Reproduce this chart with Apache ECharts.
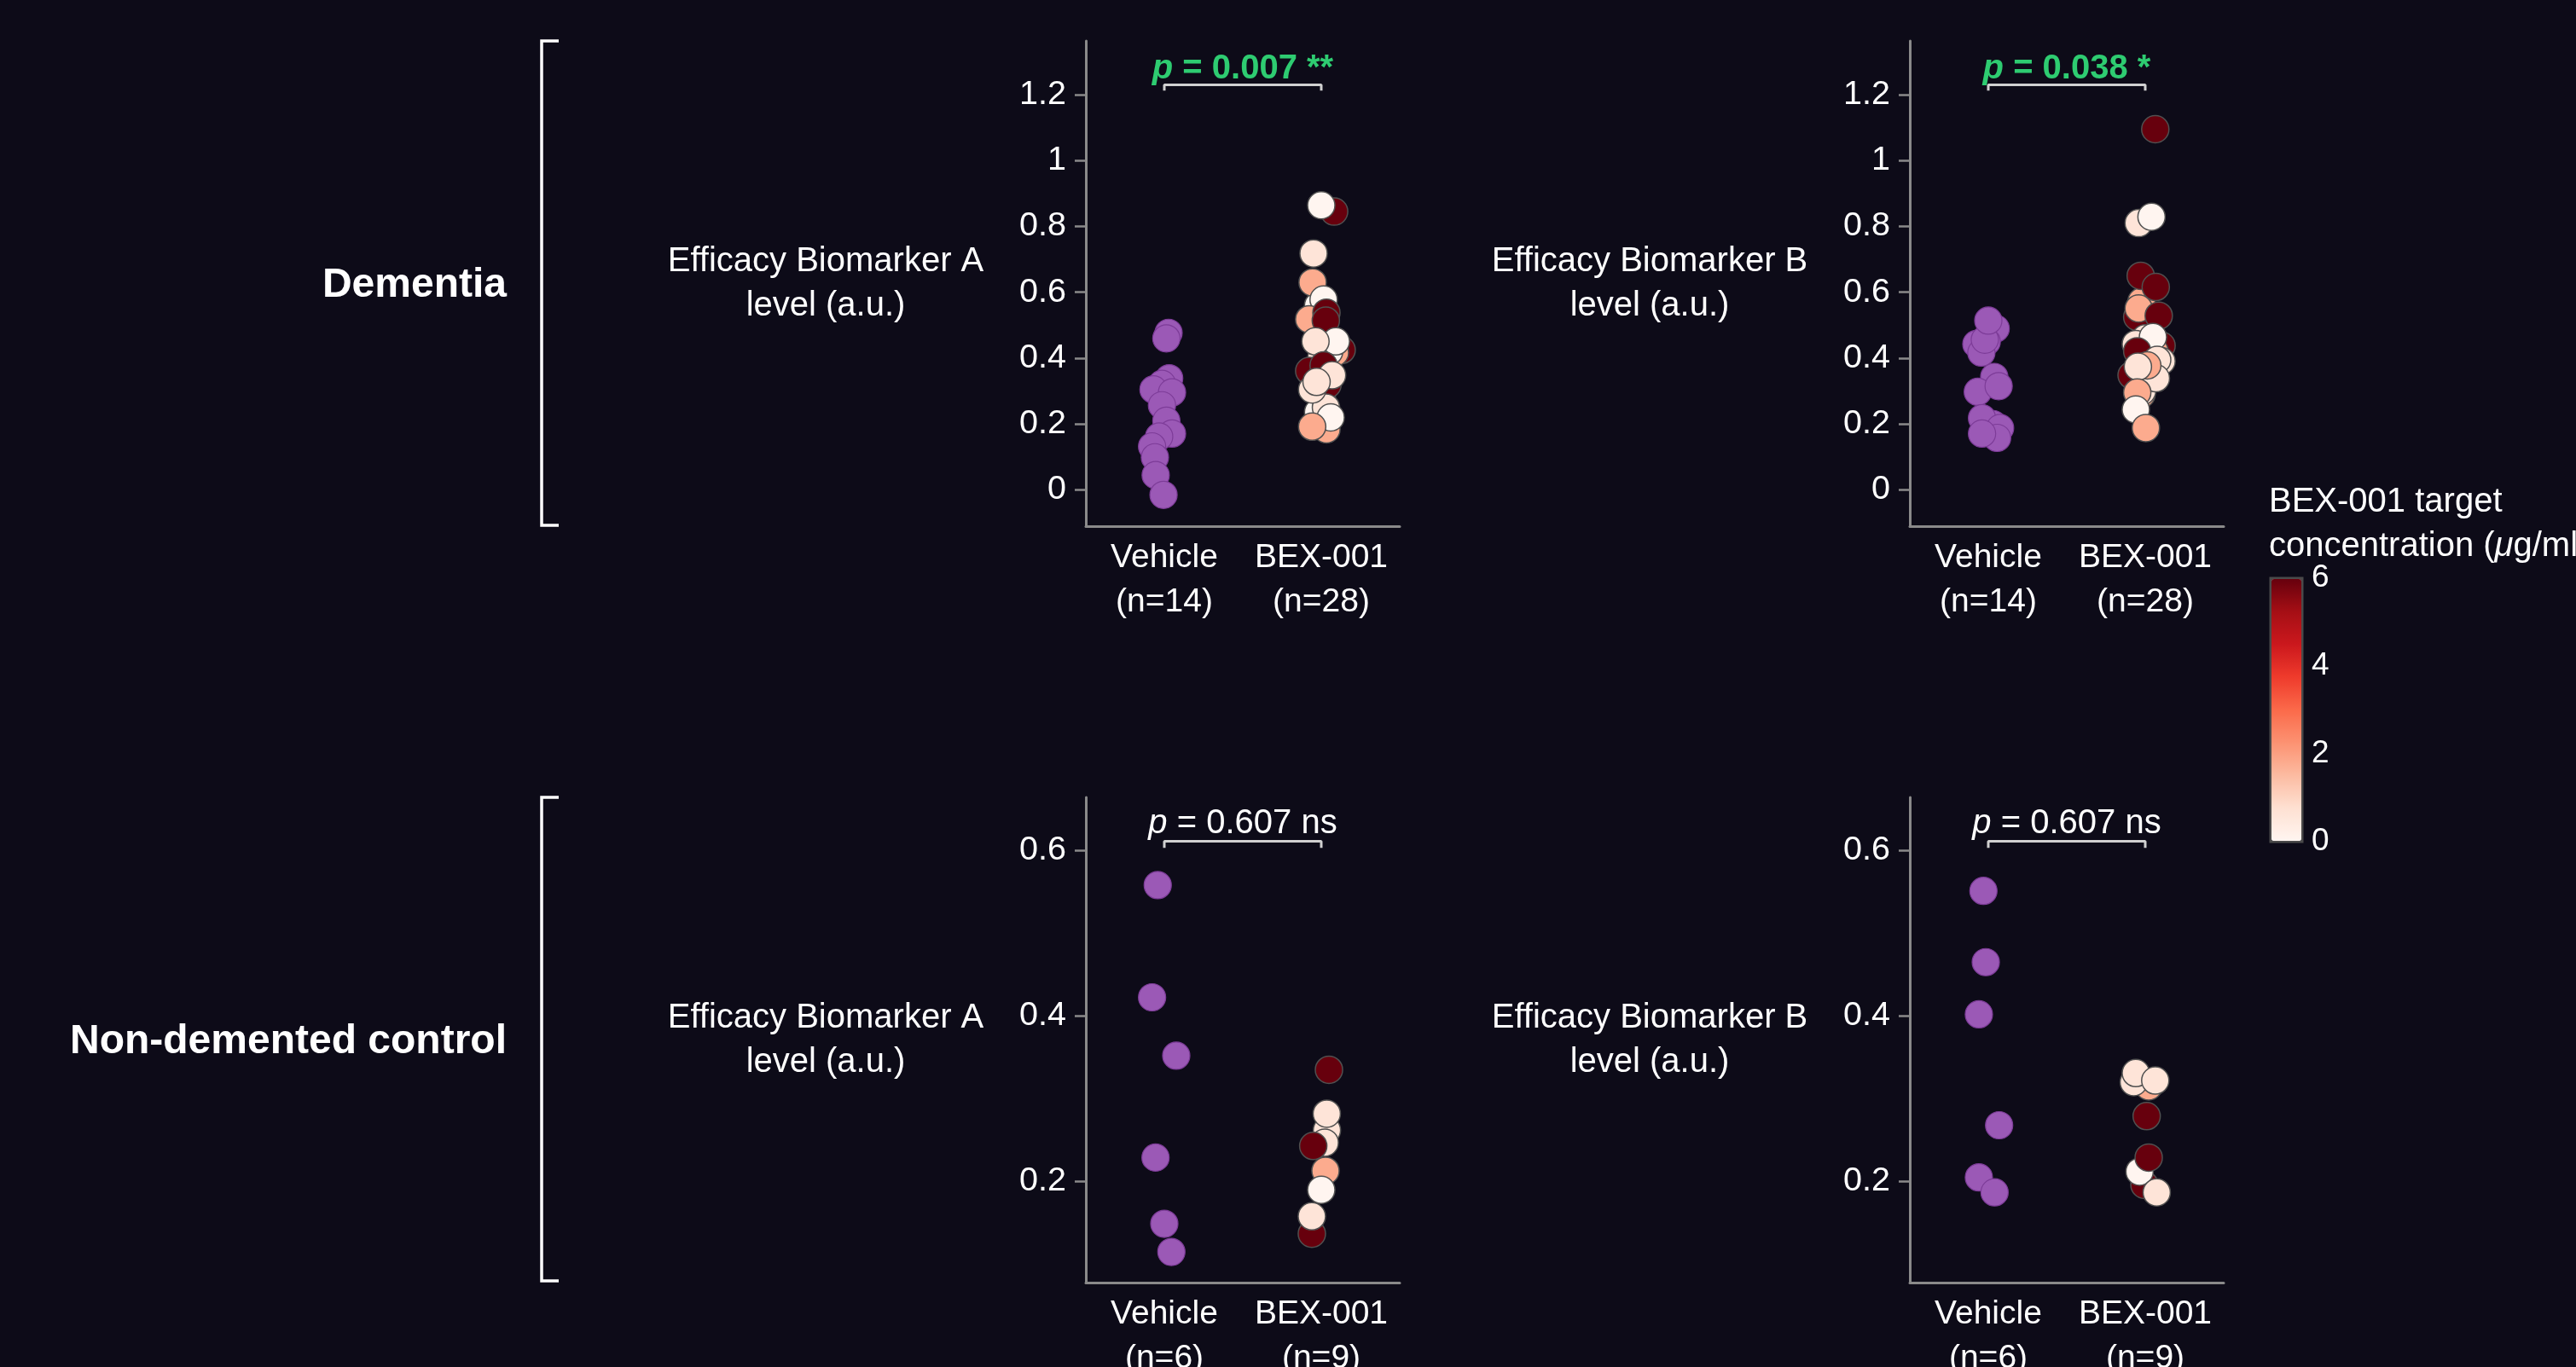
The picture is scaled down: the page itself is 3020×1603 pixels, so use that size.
<!DOCTYPE html>
<html>
<head>
<meta charset="utf-8">
<title>BEX-001 efficacy biomarkers</title>
<script src="https://cdn.jsdelivr.net/npm/echarts@6/dist/echarts.min.js"></script>
<style>
  html, body { margin: 0; padding: 0; background: #0d0b18; }
  #chart { width: 3020px; height: 1603px; }
</style>
</head>
<body>
<div id="chart"></div>
<script>
// x groups
const groups = ['Vehicle', 'BEX-001'];

// Dementia - biomarker A
const demA_veh = [0.477, 0.460, 0.339, 0.322, 0.305, 0.296, 0.257, 0.210, 0.171, 0.162, 0.132, 0.099, 0.045, -0.015];
const demA_vehJit = [0.027, 0.013, 0.031, -0.015, -0.069, 0.049, -0.015, 0.013, 0.049, -0.033, -0.078, -0.06, -0.055, -0.005];
const demA_bex = [0.425, 0.417, 0.292, 0.236, 0.184, 0.40, 0.32, 0.47, 0.42, 0.56, 0.25,
  0.845, 0.864, 0.718, 0.630, 0.578, 0.518, 0.538, 0.514, 0.451, 0.451, 0.361, 0.378, 0.348, 0.305, 0.328, 0.220, 0.192];
const demA_bexJit = [0.13, 0.087, 0.005, -0.02, 0.033, 0.0, 0.04, 0.02, 0.05, -0.02, 0.03,
  0.082, 0.0, -0.049, -0.055, 0.015, -0.077, 0.033, 0.029, 0.093, -0.037, -0.077, 0.015, 0.069, -0.058, -0.03, 0.06, -0.058];
const demA_bexConc = [6, 1.8, 6, 0, 1.8, 0.6, 6, 0, 0, 0, 0.6,
  6, 0, 0.6, 1.8, 0, 1.8, 6, 6, 0, 0.6, 6, 6, 0.6, 0.6, 0.6, 0, 1.8];

// Dementia - biomarker B
const demB_veh = [0.490, 0.45, 0.443, 0.417, 0.456, 0.514, 0.343, 0.298, 0.315, 0.2, 0.218, 0.188, 0.158, 0.171];
const demB_vehJit = [0.047, -0.01, -0.076, -0.044, -0.022, 0, 0.038, -0.067, 0.066, 0.03, -0.04, 0.075, 0.056, -0.04];
const demB_bex = [0.438, 0.29, 0.348, 0.525, 0.572, 0.46, 0.41, 0.36, 0.30, 0.42,
  1.095, 0.810, 0.829, 0.650, 0.616, 0.551, 0.529, 0.443, 0.464, 0.391, 0.421, 0.395, 0.339, 0.378, 0.374, 0.296, 0.244, 0.188];
const demB_bexJit = [0.104, -0.024, -0.087, -0.051, -0.024, 0.0, 0.03, 0.02, -0.02, 0.06,
  0.064, -0.042, 0.04, -0.029, 0.067, -0.042, 0.086, -0.06, 0.049, 0.104, -0.051, 0.076, 0.068, 0.013, -0.047, -0.051, -0.06, 0.004];
const demB_bexConc = [6, 1.8, 6, 6, 1.8, 0.6, 0, 1.8, 0.6, 1.8,
  6, 0.6, 0, 6, 6, 1.8, 6, 0.6, 0, 0.6, 6, 0.6, 0.6, 1.8, 0.6, 1.8, 0, 1.8];

// Non-demented control - biomarker A
const ctlA_veh = [0.558, 0.4225, 0.352, 0.229, 0.149, 0.115];
const ctlA_vehJit = [-0.042, -0.078, 0.076, -0.056, 0, 0.045];
const ctlA_bex = [0.262, 0.282, 0.247, 0.213, 0.19, 0.137, 0.158, 0.243, 0.335];
const ctlA_bexJit = [0.036, 0.035, 0.022, 0.027, 0, -0.06, -0.06, -0.051, 0.049];
const ctlA_bexConc = [0.6, 0.6, 0.6, 1.8, 0, 6, 0.6, 6, 6];

// Non-demented control - biomarker B
const ctlB_veh = [0.551, 0.465, 0.402, 0.268, 0.205, 0.187];
const ctlB_vehJit = [-0.031, -0.016, -0.06, 0.069, -0.06, 0.04];
const ctlB_bex = [0.315, 0.32, 0.331, 0.322, 0.279, 0.196, 0.212, 0.229, 0.187];
const ctlB_bexJit = [0.022, -0.073, -0.06, 0.064, 0.009, -0.005, -0.036, 0.022, 0.073];
const ctlB_bexConc = [1.8, 0.6, 0.6, 0.6, 6, 6, 0, 6, 0.6];

const nVeh = [14, 14, 6, 6];
const nBex = [28, 28, 9, 9];
const pValues = ['0.007', '0.038', '0.607', '0.607'];
const pMarks = ['**', '*', 'ns', 'ns'];
const bracketY = [1.23, 1.23, 0.611, 0.611];
const bracketEnd = [1.212, 1.212, 0.603, 0.603];
const yTicksDem = [0, 0.2, 0.4, 0.6, 0.8, 1, 1.2];
const yTicksCtl = [0.2, 0.4, 0.6];
const rowLabels = ['Dementia', 'Non-demented control'];
const yNames = ['Efficacy Biomarker A\nlevel (a.u.)', 'Efficacy Biomarker B\nlevel (a.u.)'];

// Reds colour map, 0 - 6 ug/ml
const reds = ['#fff5f0', '#fee0d2', '#fcbba1', '#fc9272', '#fb6a4a', '#ef3b2c', '#cb181d', '#a50f15', '#67000d'];

const FONT = "'Liberation Sans', Arial, Helvetica, sans-serif";
const AXIS_GREY = '#8a8a8a';

const panelData = [
  [demA_veh, demA_vehJit, demA_bex, demA_bexJit, demA_bexConc],
  [demB_veh, demB_vehJit, demB_bex, demB_bexJit, demB_bexConc],
  [ctlA_veh, ctlA_vehJit, ctlA_bex, ctlA_bexJit, ctlA_bexConc],
  [ctlB_veh, ctlB_vehJit, ctlB_bex, ctlB_bexJit, ctlB_bexConc]
];
const gridPos = [[1273, 48], [2239, 48], [1273, 935], [2239, 935]];
const yRange = [[-0.11, 1.363], [-0.11, 1.363], [0.078, 0.664], [0.078, 0.664]];

function points(vals, jit, grp, conc) {
  return vals.map(function (v, i) {
    const p = [grp + jit[i], v];
    if (conc) p.push(conc[i]);
    return p;
  });
}

const grid = [], xAxis = [], yAxis = [], series = [], bexIdx = [];

panelData.forEach(function (d, i) {
  grid.push({
    left: gridPos[i][0], top: gridPos[i][1], width: 368, height: 569,
    containLabel: false, outerBoundsMode: 'none'
  });
  // labelled category axis
  xAxis.push({
    type: 'category', gridIndex: i,
    data: [groups[0] + '\n(n=' + nVeh[i] + ')', groups[1] + '\n(n=' + nBex[i] + ')'],
    axisLine: { onZero: false, lineStyle: { color: AXIS_GREY, width: 3 } },
    axisTick: { show: false },
    axisLabel: { color: '#fff', fontSize: 39, lineHeight: 52, margin: 11, interval: 0 }
  });
  // hidden numeric axis for jittered points
  xAxis.push({ type: 'value', gridIndex: i, min: -0.5, max: 1.5, show: false });
  const ticks = i < 2 ? yTicksDem : yTicksCtl;
  yAxis.push({
    type: 'value', gridIndex: i, min: yRange[i][0], max: yRange[i][1],
    name: yNames[i % 2], nameLocation: 'middle', nameRotate: 0, nameGap: 305,
    nameMoveOverlap: false,
    nameTextStyle: { color: '#fff', fontSize: 40, lineHeight: 52, align: 'center', verticalAlign: 'middle' },
    axisLine: { show: true, onZero: false, lineStyle: { color: AXIS_GREY, width: 3 } },
    axisTick: { show: true, length: 13, lineStyle: { color: AXIS_GREY, width: 2.5 }, customValues: ticks },
    axisLabel: { color: '#fff', fontSize: 39.5, margin: 23, customValues: ticks },
    splitLine: { show: false }
  });
  const xi = i * 2 + 1;
  series.push({
    type: 'scatter', xAxisIndex: xi, yAxisIndex: i, symbolSize: 32,
    itemStyle: { color: '#9b59b6', borderColor: '#7d3c98', borderWidth: 1.2, opacity: 1 },
    data: points(d[0], d[1], 0)
  });
  bexIdx.push(series.length);
  series.push({
    type: 'scatter', xAxisIndex: xi, yAxisIndex: i, symbolSize: 32,
    itemStyle: { borderColor: '#505050', borderWidth: 1.5, opacity: 1 },
    data: points(d[2], d[3], 1, d[4])
  });
  // significance bracket
  series.push({
    type: 'line', xAxisIndex: xi, yAxisIndex: i, silent: true,
    showSymbol: false, symbol: 'none',
    lineStyle: { color: '#d0d0d0', width: 3 },
    data: [[0, bracketEnd[i]], [0, bracketY[i]], [1, bracketY[i]], [1, bracketEnd[i]]]
  });
  const sig = i < 2;
  const col = sig ? '#2ecc71' : '#ffffff';
  const fw = sig ? 'bold' : 'normal';
  series.push({
    type: 'scatter', xAxisIndex: xi, yAxisIndex: i, silent: true, symbolSize: 1,
    itemStyle: { color: 'transparent', opacity: 1 },
    label: {
      show: true, position: 'top', distance: sig ? -2 : 0, opacity: 1,
      formatter: '{i|p}{t| = ' + pValues[i] + ' ' + pMarks[i] + '}',
      rich: {
        i: { fontStyle: 'italic', fontWeight: fw, color: col, fontSize: 40, lineHeight: 40, fontFamily: FONT },
        t: { fontWeight: fw, color: col, fontSize: 40, lineHeight: 40, fontFamily: FONT }
      }
    },
    data: [[0.5, bracketY[i]]]
  });
});

// colour bar axis
grid.push({
  left: 2662, top: 678, width: 37, height: 309, show: true,
  borderColor: '#4a4a4a', borderWidth: 3, backgroundColor: 'transparent',
  containLabel: false, outerBoundsMode: 'none'
});
xAxis.push({ type: 'value', gridIndex: 4, show: false, min: 0, max: 1 });
yAxis.push({
  type: 'value', gridIndex: 4, position: 'right', min: 0, max: 6, interval: 2,
  axisLine: { show: false }, axisTick: { show: false }, splitLine: { show: false },
  axisLabel: { color: '#fff', fontSize: 37, margin: 11 }
});

const graphic = [];
[[48, 616], [935, 1502]].forEach(function (ys, r) {
  graphic.push({
    type: 'polyline', silent: true,
    shape: { points: [[655, ys[0]], [635, ys[0]], [635, ys[1]], [655, ys[1]]] },
    style: { stroke: '#ffffff', lineWidth: 3.5, fill: null }
  });
  graphic.push({
    type: 'text', silent: true, x: 594, y: (ys[0] + ys[1]) / 2 + 3,
    style: {
      text: rowLabels[r], fill: '#fff', font: 'bold 48px ' + FONT,
      textAlign: 'right', textVerticalAlign: 'middle'
    }
  });
});
graphic.push({
  type: 'text', silent: true, x: 2660, y: 563,
  style: {
    text: '{t|BEX-001 target}\n{t|concentration (}{i|\u03bc}{t|g/ml)}',
    rich: {
      t: { fill: '#fff', fontSize: 40, lineHeight: 52, fontFamily: FONT },
      i: { fill: '#fff', fontSize: 40, lineHeight: 52, fontStyle: 'italic', fontFamily: FONT }
    },
    textAlign: 'left', textVerticalAlign: 'top'
  }
});

const chart = echarts.init(document.getElementById('chart'), null, { renderer: 'canvas' });
chart.setOption({
  backgroundColor: '#0d0b18',
  animation: false,
  textStyle: { fontFamily: FONT, color: '#fff' },
  grid: grid,
  xAxis: xAxis,
  yAxis: yAxis,
  visualMap: {
    type: 'continuous', min: 0, max: 6, dimension: 2, seriesIndex: bexIdx,
    inRange: { color: reds }, calculable: false, hoverLink: false,
    orient: 'vertical', left: 2663, top: 679, itemWidth: 35, itemHeight: 307, padding: 0
  },
  graphic: graphic,
  series: series
});
</script>
</body>
</html>
